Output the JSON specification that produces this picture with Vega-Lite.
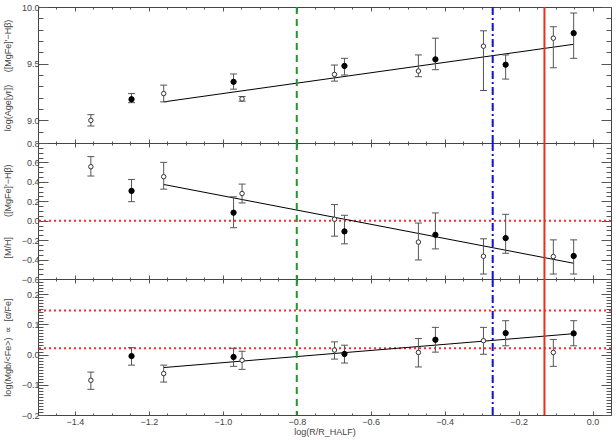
{
  "$schema": "https://vega.github.io/schema/vega-lite/v6.json",
  "padding": {"left": 2, "top": 2, "right": 6, "bottom": 0},
  "background": "white",
  "spacing": 0,
  "bounds": "flush",
  "config": {
    "view": {"stroke": "#444", "strokeWidth": 1},
    "axis": {"domain": false, "grid": false, "labelFont": "Liberation Sans", "labelFontSize": 9, "labelColor": "#444", "tickColor": "#555", "tickWidth": 1, "titleFont": "Liberation Sans", "titleFontSize": 9, "titleFontWeight": "normal", "titleColor": "#444"},
    "concat": {"spacing": 0}
  },
  "datasets": {
    "pts": [
      {"x": -1.357, "type": "open", "age": 9.000, "age_lo": 8.950, "age_hi": 9.050, "mh": 0.556, "mh_lo": 0.460, "mh_hi": 0.660, "afe": -0.085, "afe_lo": -0.115, "afe_hi": -0.058},
      {"x": -1.247, "type": "filled", "age": 9.186, "age_lo": 9.156, "age_hi": 9.236, "mh": 0.307, "mh_lo": 0.196, "mh_hi": 0.425, "afe": -0.005, "afe_lo": -0.035, "afe_hi": 0.023},
      {"x": -1.160, "type": "open", "age": 9.236, "age_lo": 9.163, "age_hi": 9.311, "mh": 0.453, "mh_lo": 0.325, "mh_hi": 0.601, "afe": -0.063, "afe_lo": -0.091, "afe_hi": -0.035},
      {"x": -0.971, "type": "filled", "age": 9.340, "age_lo": 9.275, "age_hi": 9.409, "mh": 0.083, "mh_lo": -0.072, "mh_hi": 0.246, "afe": -0.008, "afe_lo": -0.039, "afe_hi": 0.021},
      {"x": -0.948, "type": "open", "age": 9.189, "age_lo": 9.169, "age_hi": 9.210, "mh": 0.280, "mh_lo": 0.183, "mh_hi": 0.377, "afe": -0.019, "afe_lo": -0.049, "afe_hi": 0.011},
      {"x": -0.698, "type": "open", "age": 9.405, "age_lo": 9.346, "age_hi": 9.488, "mh": 0.015, "mh_lo": -0.159, "mh_hi": 0.166, "afe": 0.015, "afe_lo": -0.015, "afe_hi": 0.042},
      {"x": -0.671, "type": "filled", "age": 9.480, "age_lo": 9.400, "age_hi": 9.547, "mh": -0.110, "mh_lo": -0.238, "mh_hi": 0.056, "afe": 0.002, "afe_lo": -0.028, "afe_hi": 0.031},
      {"x": -0.471, "type": "open", "age": 9.435, "age_lo": 9.385, "age_hi": 9.577, "mh": -0.220, "mh_lo": -0.404, "mh_hi": -0.024, "afe": 0.007, "afe_lo": -0.041, "afe_hi": 0.053},
      {"x": -0.425, "type": "filled", "age": 9.538, "age_lo": 9.447, "age_hi": 9.725, "mh": -0.145, "mh_lo": -0.290, "mh_hi": 0.080, "afe": 0.049, "afe_lo": 0.008, "afe_hi": 0.090},
      {"x": -0.295, "type": "open", "age": 9.654, "age_lo": 9.263, "age_hi": 9.790, "mh": -0.366, "mh_lo": -0.549, "mh_hi": -0.186, "afe": 0.046, "afe_lo": 0.001, "afe_hi": 0.090},
      {"x": -0.235, "type": "filled", "age": 9.491, "age_lo": 9.364, "age_hi": 9.577, "mh": -0.179, "mh_lo": -0.335, "mh_hi": 0.066, "afe": 0.071, "afe_lo": 0.029, "afe_hi": 0.112},
      {"x": -0.106, "type": "open", "age": 9.725, "age_lo": 9.464, "age_hi": 9.826, "mh": -0.369, "mh_lo": -0.549, "mh_hi": -0.197, "afe": 0.007, "afe_lo": -0.039, "afe_hi": 0.050},
      {"x": -0.051, "type": "filled", "age": 9.769, "age_lo": 9.547, "age_hi": 9.947, "mh": -0.363, "mh_lo": -0.549, "mh_hi": -0.197, "afe": 0.070, "afe_lo": 0.029, "afe_hi": 0.112}
    ],
    "fits": [
      {"x": -1.160, "age": 9.163, "mh": 0.373, "afe": -0.043},
      {"x": -0.051, "age": 9.671, "mh": -0.438, "afe": 0.069}
    ],
    "vlines": [
      {"x": -0.80, "kind": "green"},
      {"x": -0.27, "kind": "blue"},
      {"x": -0.13, "kind": "red"}
    ],
    "hmid": [{"y": 0.0}],
    "hbot": [{"y": 0.146}, {"y": 0.021}]
  },
  "vconcat": [
    {
      "width": 573, "height": 136,
      "resolve": {"axis": {"x": "independent", "y": "independent"}},
      "layer": [
        {"data": {"name": "fits"}, "mark": {"type": "line", "color": "black", "strokeWidth": 1},
         "encoding": {
           "x": {"field": "x", "type": "quantitative", "scale": {"domain": [-1.5, 0.05], "nice": false, "zero": false},
                 "axis": {"orient": "bottom", "labels": false, "title": null, "values": [-1.5,-1.45,-1.4,-1.35,-1.3,-1.25,-1.2,-1.15,-1.1,-1.05,-1.0,-0.95,-0.9,-0.85,-0.8,-0.75,-0.7,-0.65,-0.6,-0.55,-0.5,-0.45,-0.4,-0.35,-0.3,-0.25,-0.2,-0.15,-0.1,-0.05,0,0.05],
                          "tickSize": {"condition": {"test": "abs(datum.value*5-round(datum.value*5))<1e-6", "value": -4}, "value": -2}}},
           "y": {"field": "age", "type": "quantitative", "scale": {"domain": [8.8, 10.0], "nice": false, "zero": false},
                 "axis": {"orient": "left", "title": "log(Age[yr])\u00a0\u00a0\u00a0\u00a0\u00a0([MgFe]'−Hβ)", "titlePadding": 2, "minExtent": 24, "maxExtent": 24, "labelPadding": 9,
                          "values": [8.8,8.9,9.0,9.1,9.2,9.3,9.4,9.5,9.6,9.7,9.8,9.9,10.0],
                          "labelExpr": "abs(datum.value*2-round(datum.value*2))<1e-6 ? format(datum.value,'.1f') : ''",
                          "tickSize": {"condition": {"test": "abs(datum.value*2-round(datum.value*2))<1e-6", "value": -10}, "value": -5}}}
         }},
        {"data": {"name": "pts"}, "mark": {"type": "rule", "color": "#555", "strokeWidth": 1},
         "encoding": {
           "x": {"field": "x", "type": "quantitative",
                 "axis": {"orient": "top", "labels": false, "title": null, "values": [-1.5,-1.45,-1.4,-1.35,-1.3,-1.25,-1.2,-1.15,-1.1,-1.05,-1.0,-0.95,-0.9,-0.85,-0.8,-0.75,-0.7,-0.65,-0.6,-0.55,-0.5,-0.45,-0.4,-0.35,-0.3,-0.25,-0.2,-0.15,-0.1,-0.05,0,0.05],
                          "tickSize": {"condition": {"test": "abs(datum.value*5-round(datum.value*5))<1e-6", "value": -4}, "value": -2}}},
           "y": {"field": "age_lo", "type": "quantitative",
                 "axis": {"orient": "right", "labels": false, "title": null, "values": [8.8,8.9,9.0,9.1,9.2,9.3,9.4,9.5,9.6,9.7,9.8,9.9,10.0],
                          "tickSize": {"condition": {"test": "abs(datum.value*2-round(datum.value*2))<1e-6", "value": -10}, "value": -5}}},
           "y2": {"field": "age_hi"}
         }},
        {"data": {"name": "pts"}, "mark": {"type": "tick", "orient": "horizontal", "size": 7, "thickness": 1, "color": "#555", "opacity": 1},
         "encoding": {"x": {"field": "x", "type": "quantitative", "axis": null}, "y": {"field": "age_lo", "type": "quantitative", "axis": null}}},
        {"data": {"name": "pts"}, "mark": {"type": "tick", "orient": "horizontal", "size": 7, "thickness": 1, "color": "#555", "opacity": 1},
         "encoding": {"x": {"field": "x", "type": "quantitative", "axis": null}, "y": {"field": "age_hi", "type": "quantitative", "axis": null}}},
        {"data": {"name": "pts"}, "mark": {"type": "point", "shape": "circle", "filled": true, "opacity": 1, "strokeWidth": 1},
         "encoding": {"x": {"field": "x", "type": "quantitative", "axis": null}, "y": {"field": "age", "type": "quantitative", "axis": null},
           "fill": {"field": "type", "type": "nominal", "scale": {"domain": ["filled", "open"], "range": ["black", "white"]}, "legend": null},
           "stroke": {"field": "type", "type": "nominal", "scale": {"domain": ["filled", "open"], "range": ["black", "#333"]}, "legend": null},
           "size": {"field": "type", "type": "nominal", "scale": {"domain": ["filled", "open"], "range": [28, 20]}, "legend": null}}},
        {"data": {"name": "vlines"}, "mark": {"type": "rule"},
         "encoding": {"x": {"field": "x", "type": "quantitative", "axis": null},
           "color": {"field": "kind", "type": "nominal", "scale": {"domain": ["green", "blue", "red"], "range": ["#1e9a2a", "#1010d8", "#e8301c"]}, "legend": null},
           "strokeDash": {"field": "kind", "type": "nominal", "scale": {"domain": ["green", "blue", "red"], "range": [[7, 5], [8, 3, 2, 3], [1, 0]]}, "legend": null},
           "strokeWidth": {"field": "kind", "type": "nominal", "scale": {"domain": ["green", "blue", "red"], "range": [2, 2, 1.5]}, "legend": null}}}
      ]
    },
    {
      "width": 573, "height": 136,
      "resolve": {"axis": {"x": "independent", "y": "independent"}},
      "layer": [
        {"data": {"name": "hmid"}, "mark": {"type": "rule", "color": "#ff2a2a", "strokeWidth": 2, "strokeDash": [2, 3]},
         "encoding": {"y": {"field": "y", "type": "quantitative", "axis": null}}},
        {"data": {"name": "fits"}, "mark": {"type": "line", "color": "black", "strokeWidth": 1},
         "encoding": {
           "x": {"field": "x", "type": "quantitative", "scale": {"domain": [-1.5, 0.05], "nice": false, "zero": false},
                 "axis": {"orient": "bottom", "labels": false, "title": null, "values": [-1.5,-1.45,-1.4,-1.35,-1.3,-1.25,-1.2,-1.15,-1.1,-1.05,-1.0,-0.95,-0.9,-0.85,-0.8,-0.75,-0.7,-0.65,-0.6,-0.55,-0.5,-0.45,-0.4,-0.35,-0.3,-0.25,-0.2,-0.15,-0.1,-0.05,0,0.05],
                          "tickSize": {"condition": {"test": "abs(datum.value*5-round(datum.value*5))<1e-6", "value": -4}, "value": -2}}},
           "y": {"field": "mh", "type": "quantitative", "scale": {"domain": [-0.6, 0.8], "nice": false, "zero": false},
                 "axis": {"orient": "left", "title": "[M/H]\u00a0\u00a0\u00a0\u00a0\u00a0\u00a0\u00a0\u00a0([MgFe]'−Hβ)", "titlePadding": 2, "minExtent": 24, "maxExtent": 24, "labelPadding": 9,
                          "values": [-0.6,-0.55,-0.5,-0.45,-0.4,-0.35,-0.3,-0.25,-0.2,-0.15,-0.1,-0.05,0,0.05,0.1,0.15,0.2,0.25,0.3,0.35,0.4,0.45,0.5,0.55,0.6,0.65,0.7,0.75,0.8],
                          "labelExpr": "abs(datum.value*5-round(datum.value*5))<1e-6 ? format(datum.value,'.1f') : ''",
                          "tickSize": {"condition": {"test": "abs(datum.value*5-round(datum.value*5))<1e-6", "value": -10}, "value": -5}}}
         }},
        {"data": {"name": "pts"}, "mark": {"type": "rule", "color": "#555", "strokeWidth": 1},
         "encoding": {
           "x": {"field": "x", "type": "quantitative",
                 "axis": {"orient": "top", "labels": false, "title": null, "values": [-1.5,-1.45,-1.4,-1.35,-1.3,-1.25,-1.2,-1.15,-1.1,-1.05,-1.0,-0.95,-0.9,-0.85,-0.8,-0.75,-0.7,-0.65,-0.6,-0.55,-0.5,-0.45,-0.4,-0.35,-0.3,-0.25,-0.2,-0.15,-0.1,-0.05,0,0.05],
                          "tickSize": {"condition": {"test": "abs(datum.value*5-round(datum.value*5))<1e-6", "value": -4}, "value": -2}}},
           "y": {"field": "mh_lo", "type": "quantitative",
                 "axis": {"orient": "right", "labels": false, "title": null, "values": [-0.6,-0.55,-0.5,-0.45,-0.4,-0.35,-0.3,-0.25,-0.2,-0.15,-0.1,-0.05,0,0.05,0.1,0.15,0.2,0.25,0.3,0.35,0.4,0.45,0.5,0.55,0.6,0.65,0.7,0.75,0.8],
                          "tickSize": {"condition": {"test": "abs(datum.value*5-round(datum.value*5))<1e-6", "value": -10}, "value": -5}}},
           "y2": {"field": "mh_hi"}
         }},
        {"data": {"name": "pts"}, "mark": {"type": "tick", "orient": "horizontal", "size": 7, "thickness": 1, "color": "#555", "opacity": 1},
         "encoding": {"x": {"field": "x", "type": "quantitative", "axis": null}, "y": {"field": "mh_lo", "type": "quantitative", "axis": null}}},
        {"data": {"name": "pts"}, "mark": {"type": "tick", "orient": "horizontal", "size": 7, "thickness": 1, "color": "#555", "opacity": 1},
         "encoding": {"x": {"field": "x", "type": "quantitative", "axis": null}, "y": {"field": "mh_hi", "type": "quantitative", "axis": null}}},
        {"data": {"name": "pts"}, "mark": {"type": "point", "shape": "circle", "filled": true, "opacity": 1, "strokeWidth": 1},
         "encoding": {"x": {"field": "x", "type": "quantitative", "axis": null}, "y": {"field": "mh", "type": "quantitative", "axis": null},
           "fill": {"field": "type", "type": "nominal", "scale": {"domain": ["filled", "open"], "range": ["black", "white"]}, "legend": null},
           "stroke": {"field": "type", "type": "nominal", "scale": {"domain": ["filled", "open"], "range": ["black", "#333"]}, "legend": null},
           "size": {"field": "type", "type": "nominal", "scale": {"domain": ["filled", "open"], "range": [28, 20]}, "legend": null}}},
        {"data": {"name": "vlines"}, "mark": {"type": "rule"},
         "encoding": {"x": {"field": "x", "type": "quantitative", "axis": null},
           "color": {"field": "kind", "type": "nominal", "scale": {"domain": ["green", "blue", "red"], "range": ["#1e9a2a", "#1010d8", "#e8301c"]}, "legend": null},
           "strokeDash": {"field": "kind", "type": "nominal", "scale": {"domain": ["green", "blue", "red"], "range": [[7, 5], [8, 3, 2, 3], [1, 0]]}, "legend": null},
           "strokeWidth": {"field": "kind", "type": "nominal", "scale": {"domain": ["green", "blue", "red"], "range": [2, 2, 1.5]}, "legend": null}}}
      ]
    },
    {
      "width": 573, "height": 136,
      "resolve": {"axis": {"x": "independent", "y": "independent"}},
      "layer": [
        {"data": {"name": "hbot"}, "mark": {"type": "rule", "color": "#ff2a2a", "strokeWidth": 2, "strokeDash": [2, 3]},
         "encoding": {"y": {"field": "y", "type": "quantitative", "axis": null}}},
        {"data": {"name": "fits"}, "mark": {"type": "line", "color": "black", "strokeWidth": 1},
         "encoding": {
           "x": {"field": "x", "type": "quantitative", "scale": {"domain": [-1.5, 0.05], "nice": false, "zero": false},
                 "axis": {"orient": "bottom", "title": "log(R/R_HALF)", "titlePadding": 1, "labelPadding": 6, "values": [-1.5,-1.45,-1.4,-1.35,-1.3,-1.25,-1.2,-1.15,-1.1,-1.05,-1.0,-0.95,-0.9,-0.85,-0.8,-0.75,-0.7,-0.65,-0.6,-0.55,-0.5,-0.45,-0.4,-0.35,-0.3,-0.25,-0.2,-0.15,-0.1,-0.05,0,0.05],
                          "labelExpr": "abs(datum.value*5-round(datum.value*5))<1e-6 ? format(datum.value,'.1f') : ''",
                          "tickSize": {"condition": {"test": "abs(datum.value*5-round(datum.value*5))<1e-6", "value": -4}, "value": -2}}},
           "y": {"field": "afe", "type": "quantitative", "scale": {"domain": [-0.2, 0.25], "nice": false, "zero": false},
                 "axis": {"orient": "left", "title": "log(Mgb/<Fe>)\u00a0\u00a0∝\u00a0\u00a0[α/Fe]", "titlePadding": 2, "minExtent": 24, "maxExtent": 24, "labelPadding": 9,
                          "values": [-0.2,-0.19,-0.18,-0.17,-0.16,-0.15,-0.14,-0.13,-0.12,-0.11,-0.1,-0.09,-0.08,-0.07,-0.06,-0.05,-0.04,-0.03,-0.02,-0.01,0,0.01,0.02,0.03,0.04,0.05,0.06,0.07,0.08,0.09,0.1,0.11,0.12,0.13,0.14,0.15,0.16,0.17,0.18,0.19,0.2,0.21,0.22,0.23,0.24,0.25],
                          "labelExpr": "abs(datum.value*10-round(datum.value*10))<1e-6 && datum.value < 0.24 ? format(datum.value,'.1f') : ''",
                          "tickSize": {"condition": {"test": "abs(datum.value*10-round(datum.value*10))<1e-6", "value": -10}, "value": -5}}}
         }},
        {"data": {"name": "pts"}, "mark": {"type": "rule", "color": "#555", "strokeWidth": 1},
         "encoding": {
           "x": {"field": "x", "type": "quantitative",
                 "axis": {"orient": "top", "labels": false, "title": null, "values": [-1.5,-1.45,-1.4,-1.35,-1.3,-1.25,-1.2,-1.15,-1.1,-1.05,-1.0,-0.95,-0.9,-0.85,-0.8,-0.75,-0.7,-0.65,-0.6,-0.55,-0.5,-0.45,-0.4,-0.35,-0.3,-0.25,-0.2,-0.15,-0.1,-0.05,0,0.05],
                          "tickSize": {"condition": {"test": "abs(datum.value*5-round(datum.value*5))<1e-6", "value": -4}, "value": -2}}},
           "y": {"field": "afe_lo", "type": "quantitative",
                 "axis": {"orient": "right", "labels": false, "title": null, "values": [-0.2,-0.19,-0.18,-0.17,-0.16,-0.15,-0.14,-0.13,-0.12,-0.11,-0.1,-0.09,-0.08,-0.07,-0.06,-0.05,-0.04,-0.03,-0.02,-0.01,0,0.01,0.02,0.03,0.04,0.05,0.06,0.07,0.08,0.09,0.1,0.11,0.12,0.13,0.14,0.15,0.16,0.17,0.18,0.19,0.2,0.21,0.22,0.23,0.24,0.25],
                          "tickSize": {"condition": {"test": "abs(datum.value*10-round(datum.value*10))<1e-6", "value": -10}, "value": -5}}},
           "y2": {"field": "afe_hi"}
         }},
        {"data": {"name": "pts"}, "mark": {"type": "tick", "orient": "horizontal", "size": 7, "thickness": 1, "color": "#555", "opacity": 1},
         "encoding": {"x": {"field": "x", "type": "quantitative", "axis": null}, "y": {"field": "afe_lo", "type": "quantitative", "axis": null}}},
        {"data": {"name": "pts"}, "mark": {"type": "tick", "orient": "horizontal", "size": 7, "thickness": 1, "color": "#555", "opacity": 1},
         "encoding": {"x": {"field": "x", "type": "quantitative", "axis": null}, "y": {"field": "afe_hi", "type": "quantitative", "axis": null}}},
        {"data": {"name": "pts"}, "mark": {"type": "point", "shape": "circle", "filled": true, "opacity": 1, "strokeWidth": 1},
         "encoding": {"x": {"field": "x", "type": "quantitative", "axis": null}, "y": {"field": "afe", "type": "quantitative", "axis": null},
           "fill": {"field": "type", "type": "nominal", "scale": {"domain": ["filled", "open"], "range": ["black", "white"]}, "legend": null},
           "stroke": {"field": "type", "type": "nominal", "scale": {"domain": ["filled", "open"], "range": ["black", "#333"]}, "legend": null},
           "size": {"field": "type", "type": "nominal", "scale": {"domain": ["filled", "open"], "range": [28, 20]}, "legend": null}}},
        {"data": {"name": "vlines"}, "mark": {"type": "rule"},
         "encoding": {"x": {"field": "x", "type": "quantitative", "axis": null},
           "color": {"field": "kind", "type": "nominal", "scale": {"domain": ["green", "blue", "red"], "range": ["#1e9a2a", "#1010d8", "#e8301c"]}, "legend": null},
           "strokeDash": {"field": "kind", "type": "nominal", "scale": {"domain": ["green", "blue", "red"], "range": [[7, 5], [8, 3, 2, 3], [1, 0]]}, "legend": null},
           "strokeWidth": {"field": "kind", "type": "nominal", "scale": {"domain": ["green", "blue", "red"], "range": [2, 2, 1.5]}, "legend": null}}}
      ]
    }
  ]
}
